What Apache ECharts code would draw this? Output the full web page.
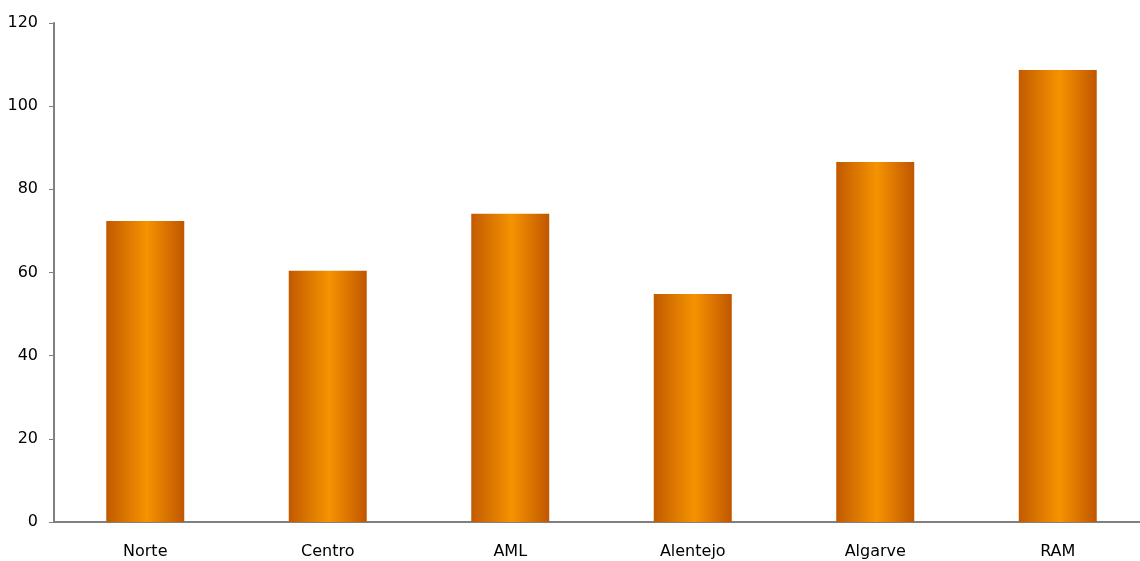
<!DOCTYPE html>
<html><head><meta charset="utf-8">
<script src="https://cdn.jsdelivr.net/npm/echarts@6/dist/echarts.min.js"></script>
<style>html,body{margin:0;padding:0;background:#fff;overflow:hidden;width:1140px;height:561px}#c{width:1160px;height:561px}</style>
</head><body><div id="c"></div>
<script>
const categories = ["Norte", "Centro", "AML", "Alentejo", "Algarve", "RAM"];
const values = [72.4, 60.4, 74.1, 54.8, 86.6, 108.7];
const yTicks = { min: 0, max: 120, interval: 20 };

const chart = echarts.init(document.getElementById('c'));
const font = "'DejaVu Sans', 'Liberation Sans', sans-serif";
chart.setOption({
  animation: false,
  grid: { left: 54, top: 23, width: 1095, bottom: 39, containLabel: false },
  xAxis: {
    type: 'category', data: categories,
    axisLine: { lineStyle: { color: '#808080', width: 2 } },
    axisTick: { show: false },
    axisLabel: { color: '#000', fontSize: 16, fontFamily: font, margin: 22 }
  },
  yAxis: {
    type: 'value', min: yTicks.min, max: yTicks.max, interval: yTicks.interval,
    splitLine: { show: false },
    axisLine: { show: true, lineStyle: { color: '#808080', width: 2 } },
    axisTick: { show: true, length: 5, lineStyle: { color: '#808080', width: 1 } },
    axisLabel: { color: '#000', fontSize: 16, fontFamily: font, margin: 16 }
  },
  series: [{
    type: 'bar', data: values, barWidth: 78,
    itemStyle: {
      color: new echarts.graphic.LinearGradient(0, 0, 1, 0, [
        { offset: 0, color: '#C25A00' },
        { offset: 0.52, color: '#F59300' },
        { offset: 1, color: '#C05600' }
      ])
    }
  }]
});
</script></body></html>
